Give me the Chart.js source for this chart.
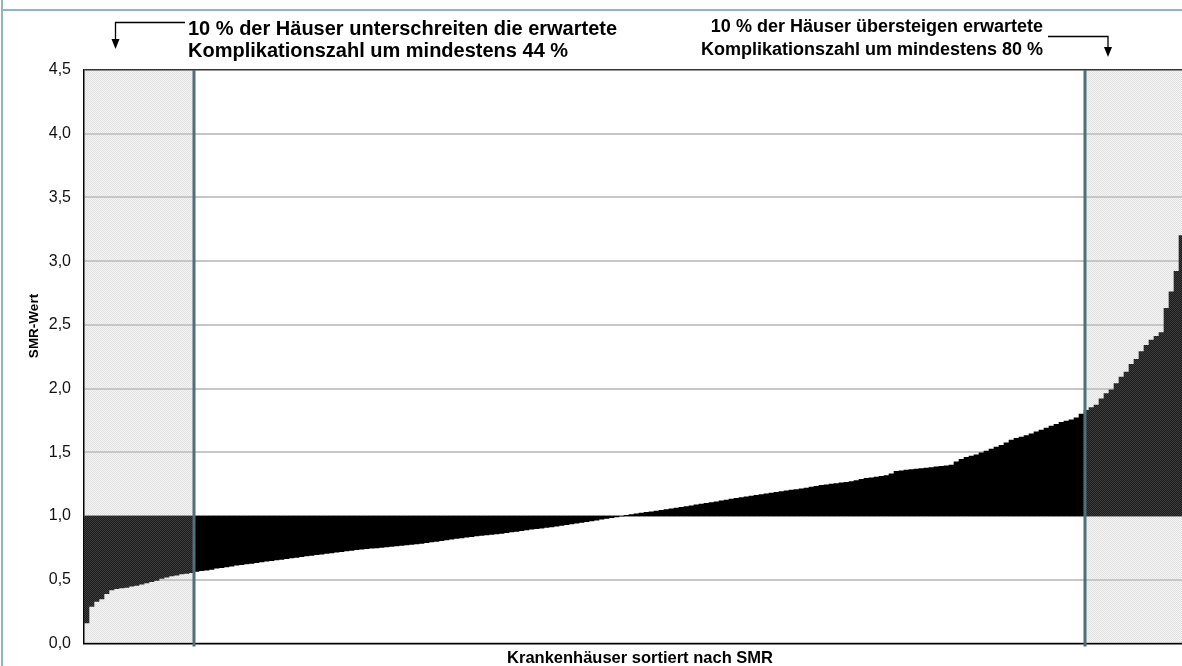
<!DOCTYPE html>
<html><head><meta charset="utf-8">
<script src="https://cdn.jsdelivr.net/npm/chart.js@4"></script>
<style>
html,body{margin:0;padding:0;background:#fff;overflow:hidden;width:1182px;height:666px}
#wrap{position:absolute;left:0;top:0;width:1184px;height:666px}
</style>
</head><body><div id="wrap"><canvas id="c"></canvas></div>
<script>
// SMR values of hospitals, sorted ascending
const lowerDecile = [0.16,0.29,0.33,0.35,0.39,0.42,0.43,0.435,0.44,0.45,0.455,0.465,0.475,0.485,0.495,0.51,0.52,0.53,0.535,0.545,0.55,0.555];
const middleRange = [
0.565,0.57,0.575,0.58,0.59,0.595,0.60,0.607,0.613,0.618,0.623,0.628,0.634,0.64,0.645,0.65,0.655,0.66,0.665,0.67,
0.675,0.68,0.686,0.69,0.696,0.70,0.706,0.71,0.716,0.72,0.725,0.73,0.735,0.74,0.743,0.747,0.75,0.754,
0.758,0.762,0.765,0.768,0.772,0.776,0.78,0.785,0.79,0.796,0.80,0.806,0.812,0.818,0.823,0.828,0.833,0.838,0.843,0.847,
0.851,0.855,0.86,0.864,0.869,0.874,0.879,0.885,0.89,0.896,0.90,0.905,0.91,0.915,0.92,0.926,0.932,0.938,0.944,0.95,
0.956,0.962,0.968,0.974,0.98,0.986,0.993,0.999,1.005,1.011,1.017,1.022,1.028,1.033,1.039,1.044,1.05,1.056,1.062,1.068,
1.074,1.08,1.087,1.093,1.099,1.106,1.112,1.118,1.125,1.132,1.138,1.144,1.15,1.156,1.162,1.168,1.174,1.18,1.186,1.192,
1.198,1.203,1.208,1.213,1.219,1.226,1.232,1.24,1.245,1.25,1.255,1.26,1.265,1.27,1.278,1.288,1.295,1.30,1.306,1.312,
1.318,1.33,1.35,1.355,1.36,1.365,1.368,1.372,1.376,1.38,1.385,1.39,1.394,1.40,1.425,1.445,1.46,1.47,1.48,1.495,
1.51,1.525,1.54,1.555,1.575,1.595,1.61,1.62,1.63,1.645,1.66,1.675,1.69,1.705,1.72,1.735,1.745,1.755,1.77,1.80];
const upperDecile = [1.83,1.85,1.87,1.92,1.96,1.99,2.04,2.09,2.13,2.19,2.23,2.29,2.34,2.38,2.41,2.44,2.63,2.76,2.92,3.2];
const baseline = 1.0;
const yRange = [0, 4.5];
const yStep = 0.5;
const annotationLeft = ['10 % der Häuser unterschreiten die erwartete', 'Komplikationszahl um mindestens 44 %'];
const annotationRight = ['10 % der Häuser übersteigen erwartete', 'Komplikationszahl um mindestens 80 %'];
const xTitle = 'Krankenhäuser sortiert nach SMR';
const yTitle = 'SMR-Wert';

const smr = lowerDecile.concat(middleRange, upperDecile);
const labels = smr.map((_, i) => String(i + 1));
const lowCut = lowerDecile.length;
const highCut = lowerDecile.length + middleRange.length;
const FONT = '"Liberation Sans", Arial, Helvetica, sans-serif';

function makePattern(a, b) {
  const c = document.createElement('canvas');
  c.width = 2; c.height = 2;
  const g = c.getContext('2d');
  g.fillStyle = a; g.fillRect(0, 0, 2, 2);
  g.fillStyle = b; g.fillRect(0, 0, 1, 1); g.fillRect(1, 1, 1, 1);
  return g.createPattern(c, 'repeat');
}
const lightPattern = makePattern('#f4f4f4', '#e2e2e2');
const darkPattern = makePattern('#1c1c1c', '#3c3c3c');

function cutPixel(x, idx) {
  const w = x.getPixelForValue(1) - x.getPixelForValue(0);
  return x.getPixelForValue(idx) - w / 2;
}

function arrow(ctx, pts, tipX, tipY) {
  ctx.beginPath();
  ctx.moveTo(pts[0][0], pts[0][1]);
  for (let i = 1; i < pts.length; i++) ctx.lineTo(pts[i][0], pts[i][1]);
  ctx.stroke();
  ctx.beginPath();
  ctx.moveTo(tipX - 4, tipY - 10);
  ctx.lineTo(tipX + 4, tipY - 10);
  ctx.lineTo(tipX, tipY);
  ctx.closePath();
  ctx.fill();
}

const decor = {
  id: 'decor',
  beforeDraw(chart) {
    const {ctx, chartArea: a, scales: {x}} = chart;
    const xl = cutPixel(x, lowCut);
    const xr = cutPixel(x, highCut);
    ctx.save();
    ctx.fillStyle = lightPattern;
    ctx.fillRect(a.left, a.top, xl - a.left, a.bottom - a.top);
    ctx.fillRect(xr, a.top, a.right - xr, a.bottom - a.top);
    ctx.fillStyle = '#93b5be';
    ctx.fillRect(1, 0, 2, chart.height);
    ctx.fillRect(1, 9, chart.width, 2);
    ctx.restore();
  },
  afterDatasetsDraw(chart) {
    const {ctx, chartArea: a, scales: {x}} = chart;
    ctx.save();
    ctx.strokeStyle = '#506f78';
    ctx.lineWidth = 3;
    [lowCut, highCut].forEach(idx => {
      const px = cutPixel(x, idx) + (idx === highCut ? 1 : 0);
      ctx.beginPath();
      ctx.moveTo(px, a.top);
      ctx.lineTo(px, a.bottom + 3);
      ctx.stroke();
    });
    ctx.restore();
  },
  afterDraw(chart) {
    const {ctx} = chart;
    ctx.save();
    ctx.fillStyle = '#000';
    ctx.strokeStyle = '#000';
    ctx.lineWidth = 1.3;
    ctx.textBaseline = 'alphabetic';
    ctx.textAlign = 'left';
    ctx.font = 'bold 20px ' + FONT;
    ctx.fillText(annotationLeft[0], 188, 35);
    ctx.fillText(annotationLeft[1], 188, 57);
    ctx.textAlign = 'right';
    ctx.font = 'bold 18px ' + FONT;
    ctx.fillText(annotationRight[0], 1043, 32);
    ctx.fillText(annotationRight[1], 1043, 55);
    arrow(ctx, [[185, 22.5], [115.5, 22.5], [115.5, 40]], 115.5, 49);
    arrow(ctx, [[1048, 36.5], [1108, 36.5], [1108, 48]], 1108, 57);
    // axis titles
    ctx.font = 'bold 16.5px ' + FONT;
    ctx.textAlign = 'center';
    ctx.fillText(xTitle, 640, 663);
    ctx.save();
    ctx.translate(38, 326);
    ctx.rotate(-Math.PI / 2);
    ctx.font = 'bold 13.5px ' + FONT;
    ctx.fillText(yTitle, 0, 0);
    ctx.restore();
    ctx.restore();
  }
};

new Chart(document.getElementById('c'), {
  type: 'bar',
  data: {
    labels: labels,
    datasets: [{
      data: smr.map(v => [baseline, v]),
      backgroundColor: c => (c.dataIndex < lowCut || c.dataIndex >= highCut) ? darkPattern : '#000000',
      borderWidth: 0,
      barPercentage: 1.0,
      categoryPercentage: 1.0
    }]
  },
  options: {
    responsive: true,
    maintainAspectRatio: false,
    animation: false,
    events: [],
    layout: { padding: { left: 0, right: 0, top: 70, bottom: 22 } },
    plugins: { legend: { display: false }, tooltip: { enabled: false }, title: { display: false } },
    scales: {
      x: {
        ticks: { display: false },
        grid: { display: false, drawTicks: false },
        border: { display: true, color: '#000', width: 1.5 },
        afterFit: s => { s.height = 0; }
      },
      y: {
        min: yRange[0], max: yRange[1],
        ticks: {
          stepSize: yStep,
          padding: 13,
          color: '#111',
          font: { family: FONT, size: 16 },
          callback: v => Number(v).toFixed(1).replace('.', ',')
        },
        grid: {
          drawTicks: false,
          color: c => (c.tick && c.tick.value === yRange[1]) ? '#333' : '#c6c6c6',
          lineWidth: c => (c.tick && c.tick.value === yRange[1]) ? 1.5 : 2
        },
        border: { display: true, color: '#000', width: 1.5 },
        afterFit: s => { s.width = 84; }
      }
    }
  },
  plugins: [decor]
});
</script>
</body></html>
